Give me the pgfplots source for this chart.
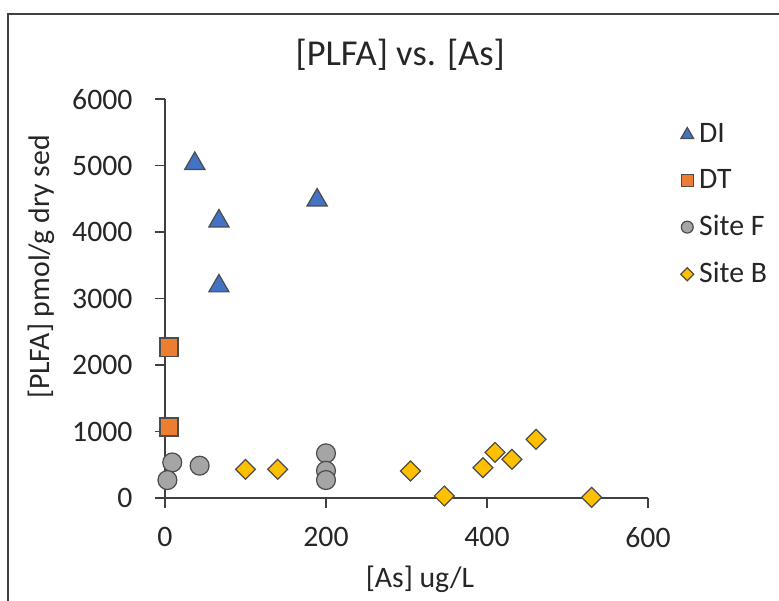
\documentclass[border=0pt]{standalone}
\usepackage{fontspec}
\setmainfont{Carlito}
\usepackage{pgfplots}
\pgfplotsset{compat=1.18}
\definecolor{diblue}{HTML}{4472C4}
\definecolor{dtorange}{HTML}{ED7D31}
\definecolor{sfgray}{HTML}{A5A5A5}
\definecolor{sbgold}{HTML}{FFC000}
\definecolor{axgray}{HTML}{404040}
\begin{document}
\begin{tikzpicture}
\useasboundingbox (0,0) rectangle (288.23pt,222pt);
\draw[black!75,line width=0.55pt] (2.96pt,-5pt) rectangle (300pt,216.8pt);
\begin{axis}[
  at={(61.05pt,37.74pt)},anchor=south west,
  scale only axis,width=178.7pt,height=147.6pt,
  xmin=0,xmax=600,ymin=0,ymax=6000,
  xtick={0,200,400,600},ytick={0,1000,...,6000},
  axis x line*=bottom,axis y line*=left,
  axis line style={axgray,line width=0.5pt},
  tick style={axgray,line width=0.5pt},
  tick align=outside,major tick length=3.7pt,
  clip=false,
  font=\fontsize{11}{13}\selectfont,
  /pgf/number format/assume math mode=true,
  /pgf/number format/set thousands separator={},
  ticklabel style={text=black!85},
  xticklabel style={yshift=-3.7pt},
  yticklabel style={xshift=-4.8pt},
  title={[PLFA] vs. [As]},
  title style={at={(0.487,1.07)},anchor=center,font=\fontsize{13.5}{16}\selectfont,text=black!85},
  xlabel={[As] ug/L},
  ylabel={[PLFA] pmol/g dry sed},
  every axis x label/.style={at={(0.528,-0.205)},anchor=center,text=black!85},
  every axis y label/.style={at={(-0.257,0.579)},rotate=90,anchor=center,text=black!85},
  legend style={at={(1.05,0.968)},anchor=north west,draw=none,fill=none,
    row sep=4.4pt,font=\fontsize{11}{13}\selectfont,text=black!85,
    /tikz/every even column/.append style={column sep=4pt}},
  legend cell align=left,
  legend image code/.code={\draw[#1] plot coordinates {(0pt,0pt)};},
]
\addplot[only marks,mark=triangle*,mark size=4.3pt,
  mark options={fill=diblue,draw=black!70,line width=0.45pt},
  legend image post style={mark size=2.7pt}]
  coordinates {(37,5030) (67,4165) (67,3188) (189,4481)};
\addlegendentry{DI}
\addplot[only marks,mark=square*,mark size=3.35pt,
  mark options={fill=dtorange,draw=black!70,line width=0.45pt},
  legend image post style={mark size=2.2pt}]
  coordinates {(5,2270) (5,1068)};
\addlegendentry{DT}
\addplot[only marks,mark=*,mark size=3.5pt,
  mark options={fill=sfgray,draw=black!70,line width=0.45pt},
  legend image post style={mark size=2.2pt}]
  coordinates {(9,535) (3,270) (43,486) (200,672) (200,410) (200,270)};
\addlegendentry{Site F}
\addplot[only marks,mark=square*,mark size=2.6pt,
  mark options={rotate=45,fill=sbgold,draw=black!70,line width=0.45pt},
  legend image post style={mark size=1.7pt}]
  coordinates {(100,431) (140,431) (305,406) (347,30) (395,456) (410,687) (431,582) (461,883) (530,10)};
\addlegendentry{Site B}
\end{axis}
\end{tikzpicture}
\end{document}
